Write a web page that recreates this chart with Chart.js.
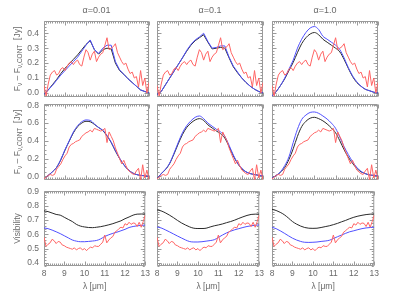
<!DOCTYPE html>
<html>
<head>
<meta charset="utf-8">
<script src="https://cdn.jsdelivr.net/npm/chart.js@4"></script>
<style>
  body { margin: 0; background: #fff; width: 394px; height: 299px; overflow: hidden; position: relative; }
  canvas { position: absolute; }
</style>
</head>
<body>
<script>
// ---- data ----
const alphaLabels = ['\u03b1=0.01', '\u03b1=0.1', '\u03b1=1.0'];
const xTicks = [8, 9, 10, 11, 12, 13];
const fluxTicksTop = [0.0, 0.1, 0.2, 0.3, 0.4];
const fluxTicksMid = [0.0, 0.2, 0.4, 0.6, 0.8];
const visTicks = [0.4, 0.5, 0.6, 0.7, 0.8, 0.9];

// observed spectra (red), 8-13 micron
const obsLambda = [8.0, 8.1, 8.2, 8.3, 8.4, 8.5, 8.6, 8.7, 8.8, 8.9, 9.0, 9.1, 9.2, 9.3, 9.4, 9.5, 9.6, 9.7, 9.8, 9.9,
  10.0, 10.1, 10.2, 10.3, 10.4, 10.5, 10.6, 10.7, 10.8, 10.9, 11.0, 11.1, 11.2, 11.3, 11.4, 11.5, 11.6, 11.7, 11.8, 11.9,
  12.0, 12.1, 12.2, 12.3, 12.4, 12.5, 12.6, 12.7, 12.8, 12.9, 13.0];
const fluxObsTop = [0.05, -0.02, 0.06, 0.12, 0.14, 0.15, 0.12, 0.13, 0.16, 0.17, 0.15, 0.18, 0.20, 0.21, 0.19, 0.21, 0.22, 0.19, 0.18, 0.24,
  0.29, 0.27, 0.22, 0.26, 0.28, 0.21, 0.24, 0.26, 0.27, 0.32, 0.37, 0.29, 0.30, 0.31, 0.33, 0.27, 0.24, 0.21, 0.19, 0.20,
  0.16, 0.13, 0.14, 0.10, 0.11, 0.04, 0.15, 0.05, 0.10, 0.00, 0.07];
const fluxObsMid = [-0.03, -0.01, 0.01, 0.02, 0.01, 0.02, 0.08, 0.11, 0.14, 0.19, 0.23, 0.26, 0.33, 0.36, 0.37, 0.39, 0.40, 0.41, 0.45, 0.47,
  0.49, 0.50, 0.52, 0.50, 0.54, 0.53, 0.52, 0.51, 0.52, 0.54, 0.38, 0.50, 0.45, 0.40, 0.32, 0.26, 0.20, 0.14, 0.18, 0.12,
  0.07, 0.05, 0.03, 0.02, 0.06, 0.09, -0.04, 0.13, -0.02, 0.07, -0.04];
const visObs = [0.58, 0.515, 0.53, 0.54, 0.565, 0.555, 0.535, 0.55, 0.545, 0.525, 0.52, 0.51, 0.505, 0.50, 0.495, 0.505, 0.49, 0.50, 0.505, 0.49,
  0.50, 0.485, 0.50, 0.51, 0.505, 0.52, 0.515, 0.515, 0.53, 0.545, 0.595, 0.54, 0.56, 0.575, 0.585, 0.615, 0.625, 0.64, 0.65, 0.645,
  0.675, 0.665, 0.685, 0.67, 0.68, 0.677, 0.655, 0.685, 0.65, 0.69, 0.735];

// models (black / blue) per alpha
const modelLambda = [8.0, 8.2, 8.4, 8.6, 8.8, 9.0, 9.2, 9.4, 9.6, 9.8, 10.0, 10.2, 10.4, 10.6, 10.8, 11.0, 11.2, 11.4, 11.6, 11.8,
  12.0, 12.2, 12.4, 12.6, 12.8, 13.0];

const topBlack001 = [-0.01, 0.02, 0.055, 0.09, 0.13, 0.165, 0.195, 0.225, 0.255, 0.29, 0.325, 0.35, 0.29, 0.26, 0.29, 0.30, 0.295, 0.20, 0.15, 0.125, 0.095, 0.07, 0.045, 0.02, 0.01, 0.0];
const topBlue001 = [-0.01, 0.02, 0.05, 0.085, 0.12, 0.15, 0.18, 0.21, 0.24, 0.28, 0.32, 0.355, 0.29, 0.265, 0.30, 0.32, 0.32, 0.21, 0.155, 0.125, 0.095, 0.07, 0.045, 0.02, 0.01, 0.0];
const topBlack01 = [-0.01, 0.01, 0.055, 0.10, 0.145, 0.19, 0.235, 0.28, 0.32, 0.35, 0.37, 0.39, 0.34, 0.295, 0.30, 0.305, 0.30, 0.235, 0.175, 0.135, 0.10, 0.07, 0.045, 0.025, 0.01, 0.0];
const topBlue01 = [-0.01, 0.01, 0.055, 0.10, 0.145, 0.19, 0.235, 0.285, 0.325, 0.355, 0.375, 0.40, 0.345, 0.30, 0.305, 0.315, 0.315, 0.24, 0.18, 0.14, 0.10, 0.07, 0.045, 0.025, 0.01, 0.0];
const topBlack1 = [-0.02, 0.01, 0.05, 0.095, 0.15, 0.205, 0.27, 0.33, 0.37, 0.395, 0.405, 0.39, 0.36, 0.34, 0.32, 0.30, 0.275, 0.225, 0.165, 0.11, 0.07, 0.045, 0.025, 0.015, 0.005, 0.0];
const topBlue1 = [-0.02, 0.01, 0.05, 0.10, 0.16, 0.22, 0.30, 0.36, 0.405, 0.435, 0.445, 0.425, 0.38, 0.36, 0.34, 0.32, 0.29, 0.235, 0.17, 0.115, 0.075, 0.045, 0.025, 0.015, 0.005, 0.0];

const midBlack001 = [-0.03, 0.01, 0.05, 0.10, 0.185, 0.295, 0.395, 0.49, 0.56, 0.60, 0.62, 0.615, 0.585, 0.55, 0.515, 0.455, 0.38, 0.285, 0.20, 0.13, 0.075, 0.04, 0.02, 0.01, 0.005, 0.0];
const midBlue001 = [-0.03, 0.01, 0.05, 0.10, 0.19, 0.30, 0.40, 0.50, 0.57, 0.615, 0.635, 0.63, 0.59, 0.55, 0.52, 0.46, 0.385, 0.29, 0.205, 0.13, 0.075, 0.04, 0.02, 0.01, 0.005, 0.0];
const midBlack01 = [-0.03, 0.03, 0.075, 0.145, 0.25, 0.365, 0.47, 0.55, 0.60, 0.635, 0.65, 0.63, 0.58, 0.545, 0.51, 0.48, 0.43, 0.335, 0.23, 0.145, 0.085, 0.05, 0.03, 0.02, 0.01, 0.005];
const midBlue01 = [-0.03, 0.03, 0.08, 0.15, 0.26, 0.38, 0.49, 0.57, 0.625, 0.665, 0.68, 0.65, 0.60, 0.565, 0.53, 0.50, 0.45, 0.35, 0.24, 0.15, 0.09, 0.05, 0.03, 0.02, 0.01, 0.005];
const midBlack1 = [-0.02, 0.01, 0.045, 0.10, 0.19, 0.31, 0.45, 0.56, 0.62, 0.655, 0.665, 0.65, 0.625, 0.59, 0.545, 0.49, 0.40, 0.30, 0.215, 0.145, 0.09, 0.05, 0.03, 0.015, 0.01, 0.005];
const midBlue1 = [-0.02, 0.01, 0.05, 0.12, 0.22, 0.38, 0.53, 0.64, 0.69, 0.72, 0.725, 0.71, 0.68, 0.645, 0.60, 0.54, 0.44, 0.335, 0.245, 0.165, 0.10, 0.055, 0.03, 0.015, 0.01, 0.005];

const visBlack001 = [0.765, 0.76, 0.75, 0.74, 0.735, 0.72, 0.705, 0.69, 0.67, 0.658, 0.652, 0.648, 0.647, 0.65, 0.654, 0.66, 0.667, 0.675, 0.685, 0.695, 0.71, 0.722, 0.735, 0.742, 0.743, 0.743];
const visBlue001 = [0.645, 0.64, 0.63, 0.618, 0.605, 0.59, 0.575, 0.56, 0.552, 0.548, 0.548, 0.55, 0.553, 0.557, 0.568, 0.585, 0.597, 0.607, 0.615, 0.625, 0.635, 0.648, 0.655, 0.66, 0.663, 0.665];
const visBlack01 = [0.772, 0.765, 0.752, 0.736, 0.718, 0.698, 0.68, 0.665, 0.652, 0.643, 0.641, 0.641, 0.643, 0.652, 0.66, 0.666, 0.673, 0.682, 0.69, 0.70, 0.712, 0.723, 0.733, 0.74, 0.742, 0.742];
const visBlue01 = [0.652, 0.645, 0.632, 0.618, 0.603, 0.588, 0.574, 0.56, 0.549, 0.546, 0.546, 0.548, 0.552, 0.556, 0.562, 0.578, 0.595, 0.61, 0.622, 0.632, 0.64, 0.648, 0.655, 0.66, 0.664, 0.666];
const visBlack1 = [0.776, 0.768, 0.755, 0.738, 0.715, 0.69, 0.672, 0.658, 0.648, 0.643, 0.642, 0.643, 0.648, 0.654, 0.66, 0.668, 0.677, 0.688, 0.698, 0.71, 0.72, 0.728, 0.734, 0.739, 0.742, 0.743];
const visBlue1 = [0.65, 0.64, 0.625, 0.608, 0.59, 0.573, 0.56, 0.55, 0.544, 0.543, 0.544, 0.546, 0.55, 0.553, 0.558, 0.57, 0.583, 0.595, 0.607, 0.618, 0.625, 0.633, 0.64, 0.645, 0.648, 0.65];

// ---- layout ----
const colLeft = [44, 157, 272];
const colWidth = [105, 106, 106];
const M = { l: 44, t: 16, r: 4, b: 30 };
const FONT = 'Liberation Sans';
const TEXT = '#6a6a6a';
const AXIS = '#9a9a9a';

const fluxTitle = [
  { t: 'F' }, { t: '\u03bd', sub: true }, { t: ' \u2013 F' }, { t: '\u03bd,CONT', sub: true }, { t: '  [Jy]' }
];

const rows = [
  { top: 21, h: 76, min: -0.027, max: 0.482, ticks: fluxTicksTop, minor: 0.02, obs: fluxObsTop,
    black: [topBlack001, topBlack01, topBlack1], blue: [topBlue001, topBlue01, topBlue1], title: fluxTitle },
  { top: 104, h: 76, min: -0.042, max: 0.815, ticks: fluxTicksMid, minor: 0.05, obs: fluxObsMid,
    black: [midBlack001, midBlack01, midBlack1], blue: [midBlue001, midBlue01, midBlue1], title: fluxTitle },
  { top: 191, h: 75, min: 0.377, max: 0.905, ticks: visTicks, minor: 0.02, obs: visObs,
    black: [visBlack001, visBlack01, visBlack1], blue: [visBlue001, visBlue01, visBlue1], title: [{ t: 'Visibility' }] }
];

const zip = (xs, ys) => xs.map((x, i) => ({ x: x, y: ys[i] }));

// box with inward major/minor ticks on all four sides, plus titles
const frame = {
  id: 'frame',
  beforeDatasetsDraw(chart, args, o) {
    const { ctx, chartArea: a, scales: { x, y } } = chart;
    const L = a.left + 0.5, R = a.right - 0.5, T = a.top + 0.5, B = a.bottom - 0.5;
    ctx.save();
    ctx.strokeStyle = AXIS;
    ctx.lineWidth = 1;
    ctx.beginPath();
    ctx.rect(L, T, R - L, B - T);
    const tx = (v, len) => {
      const p = Math.round(x.getPixelForValue(v)) + 0.5;
      ctx.moveTo(p, B); ctx.lineTo(p, B - len);
      ctx.moveTo(p, T); ctx.lineTo(p, T + len);
    };
    const ty = (v, len) => {
      const p = Math.round(y.getPixelForValue(v)) + 0.5;
      ctx.moveTo(L, p); ctx.lineTo(L + len, p);
      ctx.moveTo(R, p); ctx.lineTo(R - len, p);
    };
    const nx = Math.round((x.max - x.min) / 0.1);
    for (let i = 0; i <= nx; i++) tx(x.min + i * 0.1, i % 10 === 0 ? 4 : 2);
    const s = o.minor;
    for (let k = Math.ceil(y.min / s); k * s <= y.max; k++) ty(k * s, 2);
    o.major.forEach(v => ty(v, 4));
    ctx.stroke();

    ctx.fillStyle = TEXT;
    if (o.colTitle) {
      ctx.font = '9px "' + FONT + '"';
      ctx.textAlign = 'center';
      ctx.textBaseline = 'middle';
      ctx.fillText(o.colTitle, (a.left + a.right) / 2, a.top - 10);
    }
    if (o.yTitle) {
      const big = '8.5px "' + FONT + '"', small = '6.5px "' + FONT + '"';
      let w = 0;
      o.yTitle.forEach(p => { ctx.font = p.sub ? small : big; w += ctx.measureText(p.t).width; });
      ctx.translate(17, (a.top + a.bottom) / 2);
      ctx.rotate(-Math.PI / 2);
      ctx.textAlign = 'left';
      ctx.textBaseline = 'alphabetic';
      let cx = -w / 2;
      o.yTitle.forEach(p => {
        ctx.font = p.sub ? small : big;
        ctx.fillText(p.t, cx, p.sub ? 5 : 3);
        cx += ctx.measureText(p.t).width;
      });
    }
    ctx.restore();
  }
};

rows.forEach((row, r) => {
  for (let c = 0; c < 3; c++) {
    const cv = document.createElement('canvas');
    cv.width = colWidth[c] + M.l + M.r;
    cv.height = row.h + M.t + M.b;
    cv.style.left = (colLeft[c] - M.l) + 'px';
    cv.style.top = (row.top - M.t) + 'px';
    document.body.appendChild(cv);

    const smooth = !(r === 0 && c < 2);
    new Chart(cv.getContext('2d'), {
      type: 'line',
      data: {
        datasets: [
          { data: zip(obsLambda, row.obs), borderColor: '#ff6464', borderWidth: 1 },
          { data: zip(modelLambda, row.blue[c]), borderColor: '#5050ff', borderWidth: 1,
            cubicInterpolationMode: smooth ? 'monotone' : 'default' },
          { data: zip(modelLambda, row.black[c]), borderColor: '#2a2a2a', borderWidth: 1,
            cubicInterpolationMode: smooth ? 'monotone' : 'default' }
        ]
      },
      plugins: [frame],
      options: {
        responsive: false,
        animation: false,
        devicePixelRatio: 1,
        layout: { padding: { top: M.t, right: M.r, left: 0, bottom: 0 } },
        elements: { point: { radius: 0 }, line: { tension: 0 } },
        plugins: {
          legend: { display: false },
          tooltip: { enabled: false },
          frame: {
            minor: row.minor,
            major: row.ticks,
            colTitle: r === 0 ? alphaLabels[c] : null,
            yTitle: c === 0 ? row.title : null
          }
        },
        scales: {
          x: {
            type: 'linear', min: 8, max: 13,
            afterBuildTicks: s => { s.ticks = xTicks.map(v => ({ value: v })); },
            afterFit: s => { s.height = M.b; },
            grid: { display: false, drawTicks: false },
            border: { display: false },
            ticks: { display: r === 2, autoSkip: false, maxRotation: 0, padding: 3, color: TEXT,
                     font: { family: FONT, size: 8.5 }, callback: v => String(v) },
            title: { display: r === 2, text: '\u03bb [\u03bcm]', color: TEXT,
                     font: { family: FONT, size: 8.5 }, padding: { top: 0, bottom: 4 } }
          },
          y: {
            type: 'linear', min: row.min, max: row.max,
            afterBuildTicks: s => { s.ticks = row.ticks.map(v => ({ value: v })); },
            afterFit: s => { s.width = M.l; },
            grid: { display: false, drawTicks: false },
            border: { display: false },
            ticks: { display: c === 0, autoSkip: false, padding: 5, color: TEXT,
                     font: { family: FONT, size: 8.5 }, callback: v => v.toFixed(1) }
          }
        }
      }
    });
  }
});
</script>
</body>
</html>
